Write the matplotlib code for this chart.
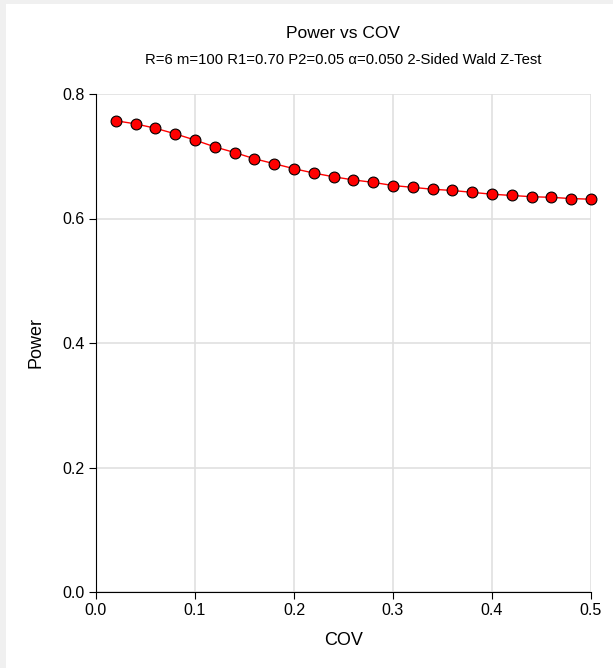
import matplotlib
matplotlib.use("Agg")
import matplotlib.pyplot as plt
from matplotlib.patches import Rectangle

plt.rcParams["font.family"] = ["Liberation Sans", "DejaVu Sans"]

# data
cov = [0.02, 0.04, 0.06, 0.08, 0.10, 0.12, 0.14, 0.16, 0.18, 0.20,
       0.22, 0.24, 0.26, 0.28, 0.30, 0.32, 0.34, 0.36, 0.38, 0.40,
       0.42, 0.44, 0.46, 0.48, 0.50]
power = [0.757, 0.752, 0.745, 0.736, 0.726, 0.715, 0.706, 0.696, 0.688, 0.680,
         0.673, 0.667, 0.662, 0.658, 0.653, 0.650, 0.647, 0.645, 0.642, 0.639,
         0.637, 0.635, 0.634, 0.632, 0.631]
x_ticks = [0.0, 0.1, 0.2, 0.3, 0.4, 0.5]
y_ticks = [0.0, 0.2, 0.4, 0.6, 0.8]

W, H = 613, 668
fig = plt.figure(figsize=(W / 100, H / 100), dpi=100, facecolor="#f0f0f0")
# white panel, grey border only on left and top
fig.patches.append(Rectangle((6 / W, 0), 1, 1 - 4 / H, transform=fig.transFigure,
                             facecolor="white", edgecolor="none", zorder=-5))

ax = fig.add_axes([96 / W, 1 - 592 / H, (591 - 96) / W, (592 - 94) / H])
ax.set_zorder(2)
ax.set_facecolor("white")

ax.plot(cov, power, color="red", lw=1, marker="o", ms=7.8,
        markerfacecolor="red", markeredgecolor="black", markeredgewidth=0.8,
        zorder=3, clip_on=False)

ax.set_xlim(0, 0.5)
ax.set_ylim(0, 0.8)
ax.set_xticks(x_ticks)
ax.set_yticks(y_ticks)
ax.set_xticklabels([f"{v:.1f}" for v in x_ticks])
ax.set_yticklabels([f"{v:.1f}" for v in y_ticks])
ax.grid(True, color="#e0e0e0", lw=1.2)
ax.set_axisbelow(True)
for s in ["top", "right"]:
    ax.spines[s].set_visible(False)
for s in ["left", "bottom"]:
    ax.spines[s].set_color("black")
    ax.spines[s].set_linewidth(0.8)
ax.tick_params(direction="out", length=5, width=0.8, labelsize=11.5, pad=3)

ax.set_xlabel("COV", fontsize=13, labelpad=10)
ax.set_ylabel("Power", fontsize=13, labelpad=13)

cx = 343 / W
fig.text(cx, 1 - 33 / H, "Power vs COV", ha="center", va="center", fontsize=12.5)
fig.text(cx, 1 - 60 / H,
         "R=6 m=100 R1=0.70 P2=0.05 \u03b1=0.050 2-Sided Wald Z-Test",
         ha="center", va="center", fontsize=10.7)

fig.savefig("out.png", dpi=100, facecolor=fig.get_facecolor())
